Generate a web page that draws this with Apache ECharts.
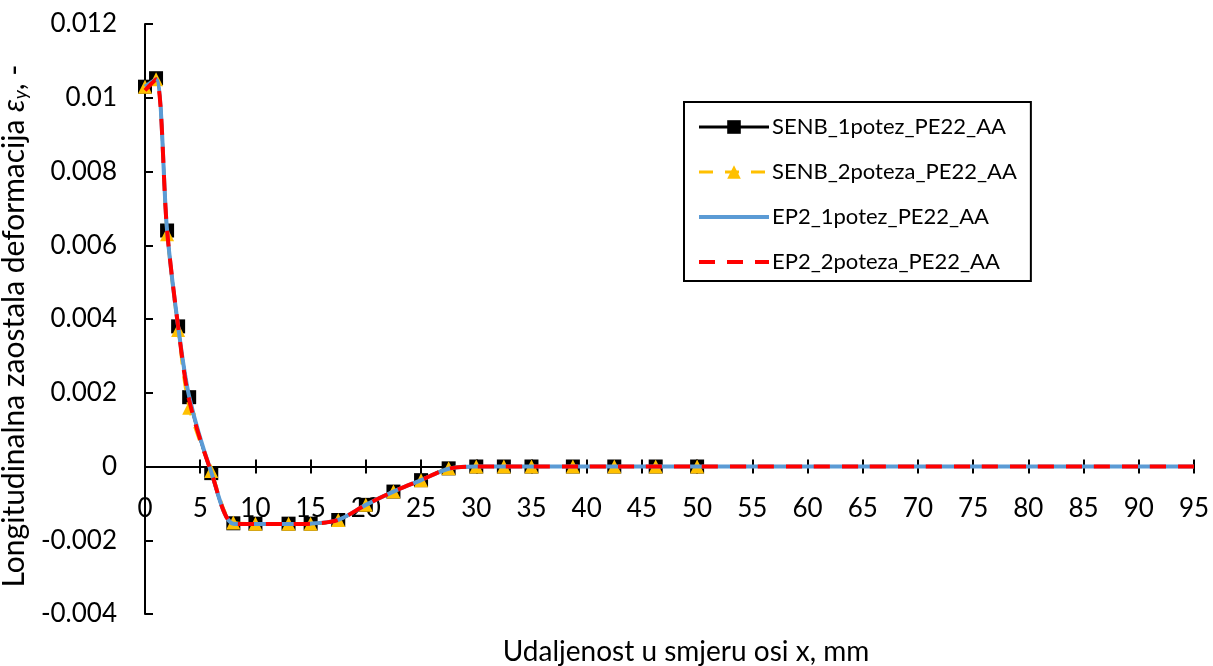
<!DOCTYPE html>
<html>
<head>
<meta charset="utf-8">
<script src="https://cdn.jsdelivr.net/npm/echarts@6/dist/echarts.min.js"></script>
<style>
html,body{margin:0;padding:0;background:#fff;}
#chart{width:1213px;height:666px;}
</style>
</head>
<body>
<div id="chart"></div>
<script>
// Data
const senbX = [0, 1, 2, 3, 4, 6, 8, 10, 13, 15, 17.5, 20, 22.5, 25, 27.5, 30, 32.5, 35, 38.75, 42.5, 46.25, 50];
const senb1potez = [0.0103, 0.01053, 0.0064, 0.0038, 0.00188, -0.00018, -0.00154, -0.00155, -0.00155, -0.00155, -0.00145, -0.00104, -0.00068, -0.00037, -0.00005, 0, 0, 0, 0, 0, 0, 0];
const senb2poteza = [0.0103, 0.0105, 0.0063, 0.0037, 0.00159, -0.00012, -0.00152, -0.00155, -0.00155, -0.00155, -0.00145, -0.00104, -0.00068, -0.00037, -0.00005, 0, 0, 0, 0, 0, 0, 0];
const ep2X = [0, 1, 2, 3, 4, 6, 8, 10, 13, 15, 17.5, 20, 22.5, 25, 27.5, 30, 32.5, 35, 40, 45, 50, 55, 60, 65, 70, 75, 80, 85, 90, 95];
const ep2_1potez = [0.0103, 0.0105, 0.0064, 0.0038, 0.0019, -0.00015, -0.00155, -0.00156, -0.00156, -0.00155, -0.00145, -0.00104, -0.00068, -0.00037, -0.00006, 0, 0, 0, 0, 0, 0, 0, 0, 0, 0, 0, 0, 0, 0, 0];
const ep2_2poteza = [0.0102, 0.0105, 0.0064, 0.0038, 0.0018, -0.00015, -0.00155, -0.00156, -0.00156, -0.00155, -0.00145, -0.00104, -0.00068, -0.00037, -0.00006, 0, 0, 0, 0, 0, 0, 0, 0, 0, 0, 0, 0, 0, 0, 0];
const seriesNames = ['SENB_1potez_PE22_AA', 'SENB_2poteza_PE22_AA', 'EP2_1potez_PE22_AA', 'EP2_2poteza_PE22_AA'];
const xTitle = 'Udaljenost u smjeru osi x, mm';

function pairs(xs, ys) { return xs.map((x, i) => [x, ys[i]]); }

const FONT = 'Lato';
// grid geometry: bottom of plot at y=614, value 0 at y=466.5 -> axis offset
const X_AXIS_OFFSET = -147.5;

const chart = echarts.init(document.getElementById('chart'), null, {renderer: 'canvas'});
chart.setOption({
  animation: false,
  backgroundColor: '#fff',
  textStyle: {fontFamily: FONT, color: '#000'},
  grid: {left: 145, right: 19, top: 24, bottom: 52, containLabel: false, outerBoundsMode: 'none'},
  legend: {
    orient: 'vertical',
    left: 684,
    top: 102,
    data: [
      {name: seriesNames[0], lineStyle: {width: 3}},
      {name: seriesNames[1], lineStyle: {width: 3}},
      {name: seriesNames[2], lineStyle: {width: 4}, itemStyle: {opacity: 0}},
      {name: seriesNames[3], lineStyle: {width: 4}, itemStyle: {opacity: 0}}
    ],
    itemWidth: 70,
    itemHeight: 17,
    itemGap: 23,
    padding: [14, 14, 8, 13],
    borderColor: '#000',
    borderWidth: 2,
    textStyle: {fontFamily: FONT, fontSize: 22, color: '#000', lineHeight: 20, padding: [0, 0, 0, -2]}
  },
  xAxis: [{
    type: 'value',
    min: 0, max: 95, interval: 5,
    offset: X_AXIS_OFFSET,
    name: xTitle,
    nameLocation: 'middle',
    nameGap: 171,
    nameTextStyle: {fontFamily: FONT, fontSize: 28, color: '#000', padding: [0, 0, 0, 33]},
    axisLine: {onZero: false, lineStyle: {color: '#000', width: 2}},
    axisTick: {show: true, inside: false, length: 7, lineStyle: {color: '#000', width: 2}},
    axisLabel: {margin: 29, fontFamily: FONT, fontSize: 26, color: '#000'},
    splitLine: {show: false}
  }, {
    type: 'value',
    min: 0, max: 95, interval: 5,
    position: 'bottom',
    offset: X_AXIS_OFFSET,
    axisLine: {onZero: false, lineStyle: {color: '#000', width: 2}},
    axisTick: {show: true, inside: true, length: 7, lineStyle: {color: '#000', width: 2}},
    axisLabel: {show: false},
    splitLine: {show: false}
  }],
  yAxis: {
    type: 'value',
    min: -0.004, max: 0.012, interval: 0.002,
    name: '{t|Longitudinalna zaostala deformacija }{e|ε}{s|y}{t|, -}',
    nameLocation: 'middle',
    nameRotate: 90,
    nameGap: 108,
    nameTextStyle: {
      padding: [0, 14, 0, 0],
      rich: {
        t: {fontFamily: FONT, fontSize: 30, color: '#000'},
        e: {fontFamily: FONT, fontSize: 30, color: '#000', fontStyle: 'italic'},
        s: {fontFamily: FONT, fontSize: 19, color: '#000', fontStyle: 'italic', padding: [13, 0, 0, 0]}
      }
    },
    axisLine: {onZero: false, lineStyle: {color: '#000', width: 2}},
    axisTick: {show: true, inside: true, length: 8, lineStyle: {color: '#000', width: 2}},
    axisLabel: {margin: 28, fontFamily: FONT, fontSize: 26, color: '#000'},
    splitLine: {show: false}
  },
  series: [{
    name: seriesNames[0],
    type: 'line',
    z: 2,
    smooth: 0.3,
    data: pairs(senbX, senb1potez),
    symbol: 'rect',
    symbolSize: 14,
    itemStyle: {color: '#000'},
    lineStyle: {color: '#000', width: 3}
  }, {
    name: seriesNames[1],
    type: 'line',
    z: 3,
    smooth: 0.3,
    data: pairs(senbX, senb2poteza),
    symbol: 'triangle',
    symbolSize: 14,
    itemStyle: {color: '#FFC000'},
    lineStyle: {color: '#FFC000', width: 3, type: [14, 12]}
  }, {
    name: seriesNames[2],
    type: 'line',
    z: 4,
    smooth: 0.3,
    data: pairs(ep2X, ep2_1potez),
    symbol: 'circle',
    showSymbol: false,
    itemStyle: {color: '#5B9BD5'},
    lineStyle: {color: '#5B9BD5', width: 4}
  }, {
    name: seriesNames[3],
    type: 'line',
    z: 5,
    smooth: 0.3,
    data: pairs(ep2X, ep2_2poteza),
    symbol: 'circle',
    showSymbol: false,
    itemStyle: {color: '#FF0000'},
    lineStyle: {color: '#FF0000', width: 4, type: [16, 12]}
  }]
});
</script>
</body>
</html>
